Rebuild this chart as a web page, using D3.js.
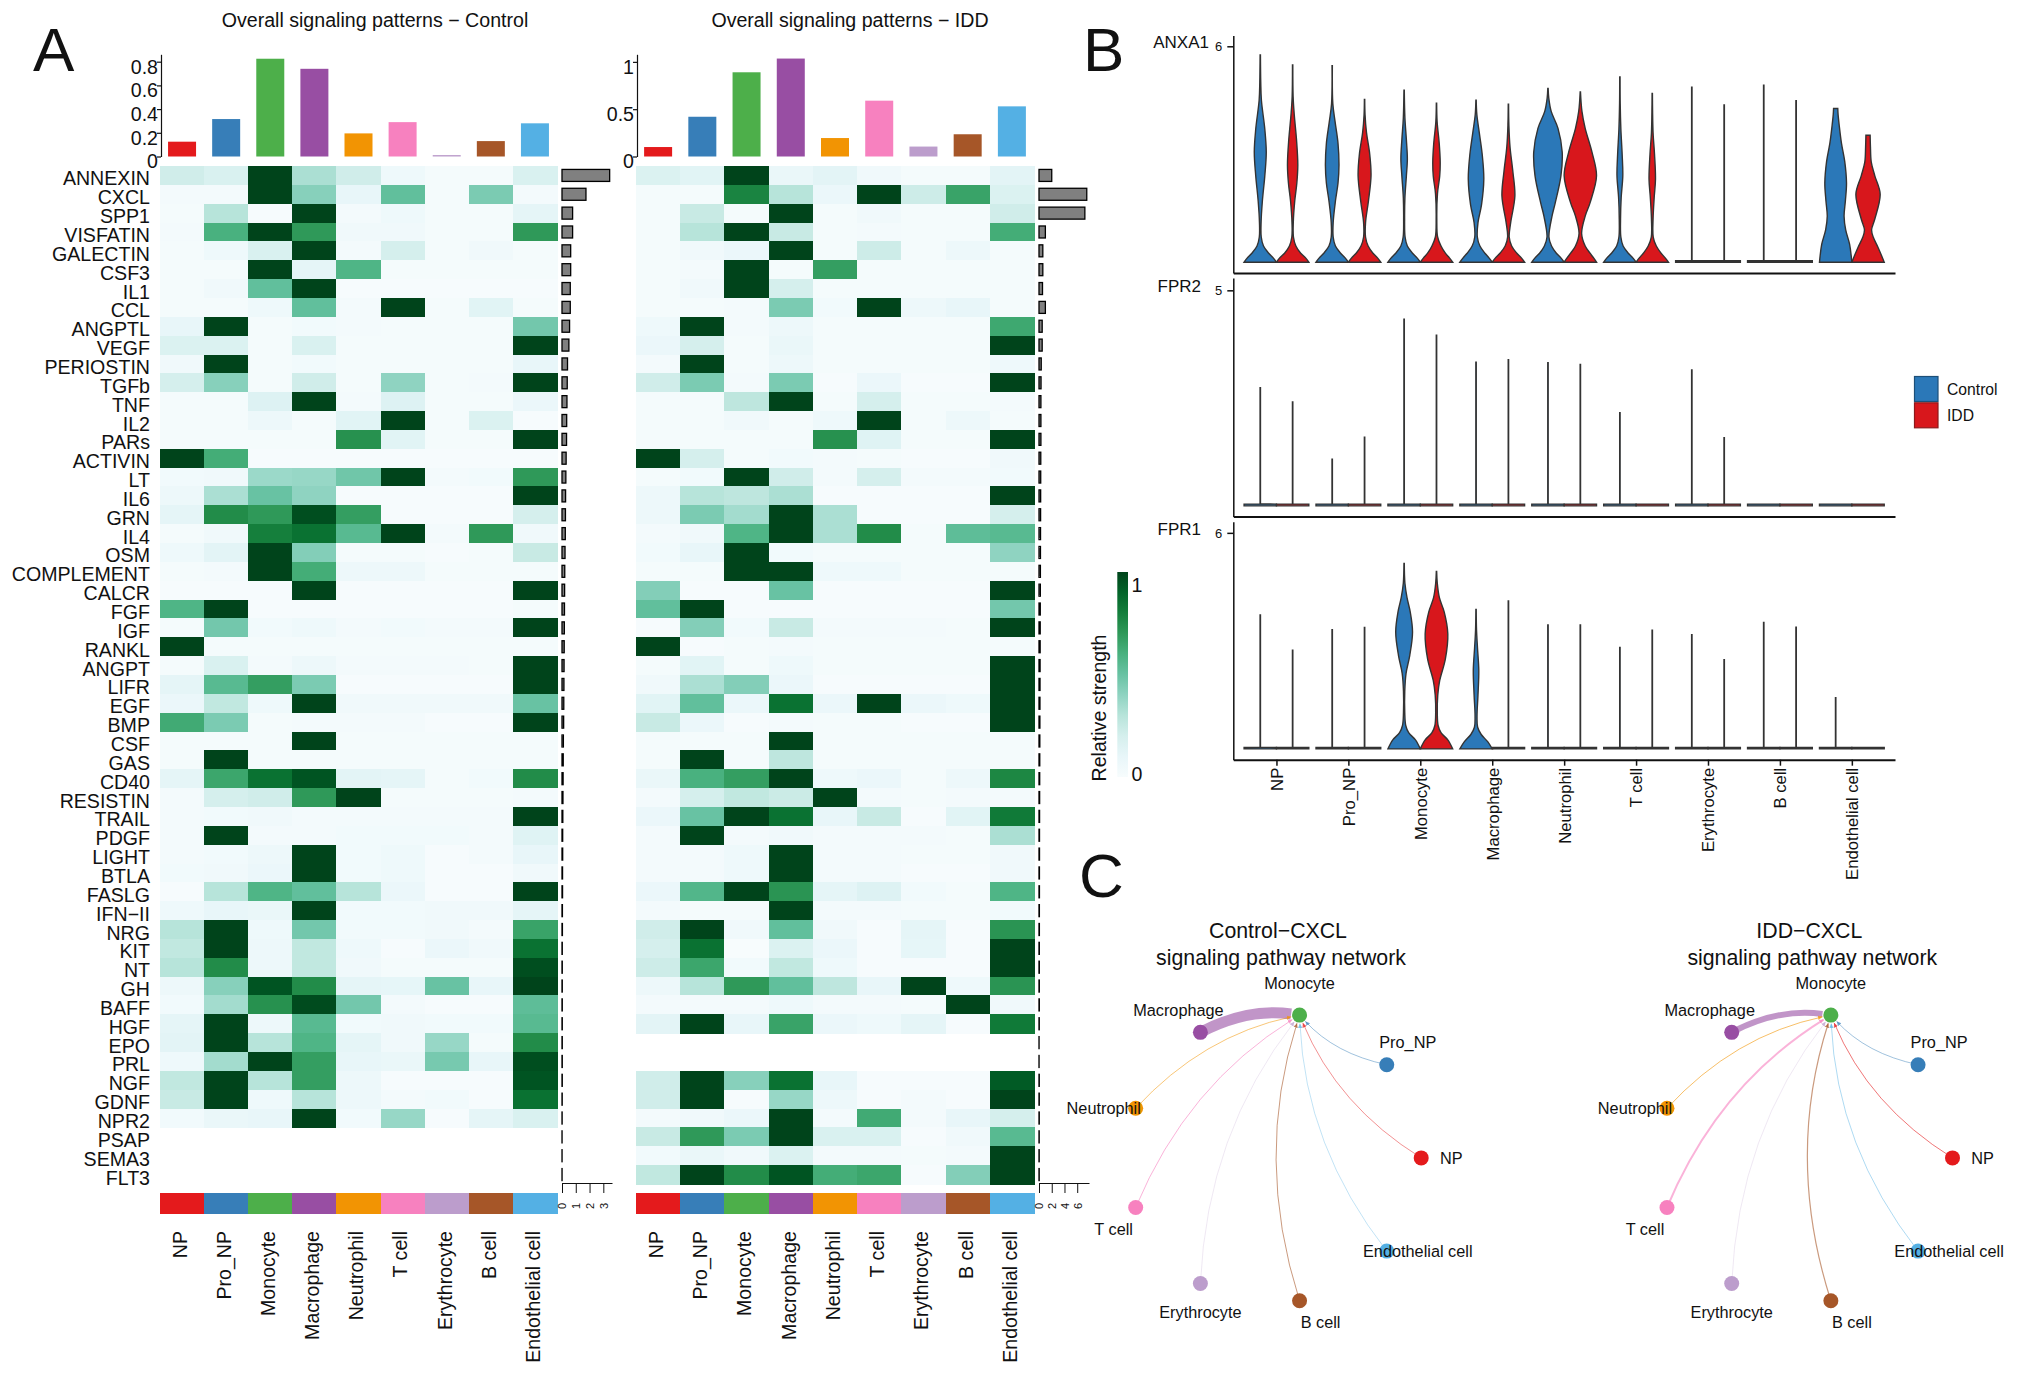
<!DOCTYPE html>
<html>
<head>
<meta charset="utf-8">
<script src="https://d3js.org/d3.v7.min.js"></script>
<style>
  body { margin: 0; background: #fff; }
  text { font-family: "Liberation Sans", Arial, sans-serif; fill: #111; }
  .axis path, .axis line { stroke: #111; }
  .axis text { fill: #111; }
</style>
</head>
<body>
<div id="chart"></div>
<script>
// ==================== data ====================
var cellTypes = ["NP", "Pro_NP", "Monocyte", "Macrophage", "Neutrophil", "T cell", "Erythrocyte", "B cell", "Endothelial cell"];
var cellColors = ["#E41A1C", "#377EB8", "#4DAF4A", "#984EA3", "#F29403", "#F781BF", "#BC9DCC", "#A65628", "#54B0E4"];

var pathways = ["ANNEXIN", "CXCL", "SPP1", "VISFATIN", "GALECTIN", "CSF3", "IL1", "CCL", "ANGPTL", "VEGF", "PERIOSTIN", "TGFb", "TNF", "IL2", "PARs", "ACTIVIN", "LT", "IL6", "GRN", "IL4", "OSM", "COMPLEMENT", "CALCR", "FGF", "IGF", "RANKL", "ANGPT", "LIFR", "EGF", "BMP", "CSF", "GAS", "CD40", "RESISTIN", "TRAIL", "PDGF", "LIGHT", "BTLA", "FASLG", "IFN−II", "NRG", "KIT", "NT", "GH", "BAFF", "HGF", "EPO", "PRL", "NGF", "GDNF", "NPR2", "PSAP", "SEMA3", "FLT3"];

// top bars
var controlTotals = [0.125, 0.316, 0.825, 0.74, 0.195, 0.29, 0.012, 0.13, 0.28];
var iddTotals = [0.10, 0.42, 0.89, 1.035, 0.195, 0.59, 0.105, 0.235, 0.53];

// right bars, one per pathway
var controlPathwayTotals = [3.46, 1.74, 0.77, 0.77, 0.63, 0.63, 0.6, 0.6, 0.55, 0.5, 0.4, 0.38, 0.36, 0.34, 0.33, 0.3, 0.28, 0.26, 0.25, 0.24, 0.22, 0.2, 0.19, 0.18, 0.17, 0.16, 0.15, 0.14, 0.13, 0.12, 0.1, 0.09, 0.08, 0.07, 0.06, 0.05, 0.05, 0.04, 0.04, 0.03, 0.03, 0.02, 0.02, 0.02, 0.02, 0.02, 0.02, 0.02, 0.02, 0.015, 0.01, 0.005, 0.005, 0.005];
var iddPathwayTotals = [2.0, 7.5, 7.2, 1.0, 0.6, 0.6, 0.55, 1.0, 0.5, 0.5, 0.35, 0.32, 0.3, 0.3, 0.3, 0.28, 0.27, 0.26, 0.25, 0.24, 0.23, 0.22, 0.21, 0.2, 0.19, 0.18, 0.17, 0.16, 0.15, 0.14, 0.13, 0.12, 0.11, 0.1, 0.09, 0.08, 0.08, 0.07, 0.07, 0.06, 0.06, 0.05, 0.05, 0.05, 0.05, 0.04, 0.01, 0.01, 0.04, 0.04, 0.04, 0.03, 0.03, 0.03];

// heatmap, rows are pathways, null is a blank row
var controlHeat = [
  [.22, .18, 1, .33, .22, .06, .02, .02, .18],
  [.03, .03, 1, .42, .1, .52, .02, .45, .03],
  [.02, .3, .01, 1, .03, .06, .02, .02, .12],
  [.03, .6, 1, .7, .05, .05, .02, .02, .7],
  [.02, .06, .18, 1, .03, .2, .02, .05, .02],
  [.02, .02, 1, .12, .58, .02, .02, .02, .02],
  [.02, .05, .52, 1, .01, .01, .01, .01, .01],
  [.02, .02, .06, .52, .03, 1, .02, .14, .02],
  [.1, 1, .02, .04, .03, .02, .02, .02, .47],
  [.17, .17, .02, .18, .02, .02, .02, .02, 1],
  [.05, 1, .02, .04, .02, .02, .02, .02, .1],
  [.2, .42, .02, .22, .02, .4, .02, .03, 1],
  [.02, .02, .16, 1, .03, .16, .02, .02, .08],
  [.02, .02, .07, .02, .14, 1, .02, .17, .01],
  [.02, .02, .02, .02, .73, .14, .02, .02, 1],
  [1, .62, .01, .01, .01, .01, .01, .01, .01],
  [.04, .05, .37, .38, .48, 1, .03, .04, .7],
  [.07, .33, .5, .4, .01, .01, .01, .01, 1],
  [.12, .75, .7, .97, .68, .01, .01, .01, .2],
  [.02, .05, .8, .85, .55, 1, .03, .7, .05],
  [.06, .13, 1, .43, .02, .02, .01, .02, .25],
  [.02, .03, 1, .62, .07, .07, .02, .02, .02],
  [.01, .01, .01, 1, .01, .01, .01, .01, 1],
  [.58, 1, .01, .01, .01, .01, .01, .01, .02],
  [.02, .47, .04, .06, .03, .04, .03, .03, 1],
  [1, .02, .02, .02, .02, .02, .02, .02, .02],
  [.02, .18, .03, .07, .03, .03, .03, .02, 1],
  [.12, .55, .68, .45, .01, .01, .01, .01, 1],
  [.08, .27, .06, 1, .05, .05, .05, .05, .5],
  [.63, .45, .02, .03, .03, .03, .01, .01, 1],
  [.02, .02, .02, 1, .02, .02, .02, .02, .02],
  [.02, 1, .02, .02, .02, .02, .02, .02, .02],
  [.12, .65, .85, .95, .13, .12, .02, .04, .75],
  [.03, .2, .22, .7, 1, .02, .02, .02, .03],
  [.03, .04, .05, .03, .03, .03, .03, .03, 1],
  [.03, 1, .03, .03, .04, .04, .04, .03, .15],
  [.03, .04, .07, 1, .04, .06, .01, .03, .1],
  [.04, .05, .08, 1, .04, .06, .01, .01, .05],
  [.01, .3, .58, .52, .3, .08, .01, .01, 1],
  [.06, .1, .09, 1, .04, .04, .05, .05, .12],
  [.3, 1, .06, .47, .04, .04, .05, .03, .66],
  [.27, 1, .07, .27, .06, .01, .08, .05, .85],
  [.3, .75, .07, .27, .05, .02, .02, .02, .97],
  [.07, .42, .95, .75, .12, .11, .5, .1, 1],
  [.04, .35, .73, .98, .47, .03, .01, .01, .53],
  [.12, 1, .07, .55, .04, .05, .04, .04, .55],
  [.13, 1, .3, .58, .12, .05, .38, .02, .75],
  [.06, .35, 1, .68, .1, .09, .46, .1, .97],
  [.27, 1, .3, .68, .07, .01, .01, .01, .95],
  [.25, 1, .06, .3, .07, .03, .04, .01, .85],
  [.04, .09, .1, 1, .04, .38, .01, .12, .18],
  null,
  null,
  null
];
var iddHeat = [
  [.17, .14, 1, .09, .13, .05, .02, .02, .13],
  [.02, .02, .78, .3, .08, 1, .23, .66, .17],
  [.02, .25, .02, 1, .02, .05, .02, .02, .22],
  [.02, .3, 1, .25, .02, .03, .02, .02, .62],
  [.02, .05, .08, 1, .02, .23, .02, .07, .02],
  [.02, .03, 1, .02, .68, .02, .02, .02, .02],
  [.02, .05, 1, .2, .02, .02, .02, .02, .02],
  [.02, .02, .03, .45, .04, 1, .07, .1, .02],
  [.06, 1, .03, .07, .02, .02, .02, .02, .64],
  [.08, .2, .02, .09, .02, .02, .02, .02, 1],
  [.03, 1, .02, .07, .02, .02, .02, .02, .06],
  [.22, .45, .03, .45, .01, .08, .01, .01, 1],
  [.02, .02, .28, 1, .02, .2, .02, .02, .03],
  [.02, .02, .05, .02, .06, 1, .02, .07, .02],
  [.02, .02, .02, .02, .73, .15, .02, .02, 1],
  [1, .2, .02, .04, .03, .02, .01, .01, .05],
  [.02, .04, 1, .22, .03, .2, .03, .03, .04],
  [.07, .3, .28, .33, .01, .01, .01, .01, 1],
  [.07, .45, .35, 1, .33, .01, .01, .01, .2],
  [.03, .05, .58, 1, .33, .75, .02, .53, .55],
  [.04, .1, 1, .04, .02, .02, .02, .02, .4],
  [.02, .02, 1, 1, .06, .06, .02, .02, .02],
  [.43, .01, .01, .5, .01, .01, .01, .01, 1],
  [.52, 1, .01, .01, .01, .01, .01, .01, .47],
  [.01, .43, .04, .25, .03, .03, .03, .02, 1],
  [1, .01, .02, .03, .02, .02, .02, .02, .02],
  [.02, .14, .02, .06, .02, .02, .02, .02, 1],
  [.05, .33, .43, .08, .01, .01, .01, .01, 1],
  [.14, .52, .08, .85, .08, 1, .08, .06, 1],
  [.25, .08, .01, .03, .02, .02, .01, .01, 1],
  [.02, .02, .02, 1, .02, .02, .02, .02, .02],
  [.02, 1, .02, .28, .02, .02, .02, .02, .02],
  [.09, .6, .68, 1, .06, .08, .02, .07, .77],
  [.03, .2, .27, .24, 1, .03, .02, .03, .03],
  [.08, .5, 1, .85, .1, .25, .01, .14, .82],
  [.03, 1, .03, .05, .03, .03, .03, .02, .33],
  [.03, .03, .06, 1, .03, .03, .02, .02, .05],
  [.03, .03, .06, 1, .03, .03, .01, .01, .05],
  [.08, .57, 1, .72, .12, .16, .04, .02, .58],
  [.03, .02, .02, 1, .03, .03, .02, .02, .04],
  [.22, 1, .05, .52, .05, .01, .12, .01, .72],
  [.2, .85, .0, .17, .08, .01, .11, .01, 1],
  [.23, .65, .04, .27, .06, .01, .01, .01, 1],
  [.07, .3, .7, .52, .28, .1, 1, .06, .72],
  [.03, .03, .03, .06, .03, .03, .02, 1, .05],
  [.13, 1, .1, .66, .08, .06, .12, .01, .82],
  null,
  null,
  [.22, 1, .42, .85, .1, .01, .01, .01, .93],
  [.22, 1, .01, .38, .07, .01, .03, .01, 1],
  [.03, .05, .08, 1, .03, .63, .03, .1, .2],
  [.25, .7, .45, 1, .18, .18, .01, .05, .55],
  [.04, .09, .05, .17, .03, .03, .02, .03, 1],
  [.27, 1, .75, .95, .62, .65, .01, .43, 1]
];

// violins: each profile is a list of [expression, relative half width]
var anxa1Control = [
  [[0, 1], [.12, .8], [.25, .52], [.45, .2], [.7, .06], [1.1, .05], [1.7, .13], [2.4, .28], [3.06, .37], [3.7, .28], [4.5, .07], [5, .03], [5.76, .01]],
  [[0, 1], [.12, .8], [.25, .52], [.45, .2], [.7, .06], [1.1, .06], [1.7, .2], [2.2, .36], [2.7, .42], [3.3, .36], [3.9, .18], [4.4, .04], [5.46, .01]],
  [[0, 1], [.12, .8], [.25, .52], [.45, .2], [.7, .06], [1.2, .03], [1.8, .05], [2.4, .14], [2.87, .2], [3.4, .14], [4, .05], [4.78, .01]],
  [[0, 1], [.12, .8], [.25, .55], [.45, .24], [.7, .08], [1.1, .12], [1.6, .34], [2.31, .48], [3, .38], [3.6, .2], [4.1, .05], [4.5, .01]],
  [[0, 1], [.12, .8], [.25, .52], [.45, .22], [.7, .06], [1.28, .25], [1.65, .45], [2.4, .8], [3.06, .88], [3.72, .62], [4.19, .2], [4.56, .05], [4.83, .01]],
  [[0, 1], [.12, .8], [.25, .52], [.45, .2], [.7, .06], [1.2, .04], [1.8, .08], [2.4, .18], [3, .14], [3.7, .06], [4.4, .02], [5.15, .01]],
  [],
  [],
  [[0, 1], [.5, .86], [.9, .62], [1.28, .52], [1.7, .6], [2.2, .67], [2.8, .56], [3.3, .36], [3.8, .22], [4.1, .15], [4.27, .13]]
];
var anxa1Idd = [
  [[0, 1], [.12, .8], [.25, .5], [.45, .2], [.7, .05], [1.1, .04], [1.7, .13], [2.2, .26], [2.7, .32], [3.4, .24], [4.1, .1], [4.6, .03], [5.48, .01]],
  [[0, 1], [.12, .8], [.25, .52], [.45, .22], [.7, .06], [1.1, .06], [1.7, .24], [2.4, .4], [3, .32], [3.6, .12], [4.1, .03], [4.52, .01]],
  [[0, 1], [.12, .8], [.25, .55], [.45, .28], [.7, .07], [1.2, .02], [1.9, .06], [2.4, .2], [2.78, .23], [3.3, .17], [3.9, .04], [4.42, .01]],
  [[0, 1], [.12, .8], [.25, .52], [.45, .2], [.7, .05], [1.1, .14], [1.84, .4], [2.5, .28], [3.2, .1], [3.8, .03], [4.39, .01]],
  [[0, 1], [.12, .82], [.25, .6], [.45, .3], [.8, .08], [1.28, .3], [1.65, .6], [2.4, 1], [3.06, .72], [3.72, .3], [4.19, .1], [4.73, .01]],
  [[0, 1], [.12, .8], [.25, .55], [.45, .25], [.7, .06], [1.2, .05], [1.8, .12], [2.31, .2], [3, .14], [3.6, .05], [4.2, .02], [4.69, .01]],
  [],
  [],
  [[0, 1], [.2, .82], [.43, .6], [.7, .32], [.9, .22], [1.2, .42], [1.89, .75], [2.4, .42], [2.78, .2], [3.2, .15], [3.53, .13]]
];
// where the violins above are empty there is only a spike, these are the spike heights
var anxa1SpikeControl = [0, 0, 0, 0, 0, 0, 4.86, 4.92, 0];
var anxa1SpikeIdd = [0, 0, 0, 0, 0, 0, 4.37, 4.49, 0];
var fpr2SpikeControl = [2.74, 1.08, 4.33, 3.33, 3.32, 2.16, 3.15, 0, 0];
var fpr2SpikeIdd = [2.41, 1.59, 3.96, 3.39, 3.28, 0, 1.58, 0, 0];
var fpr1SpikeControl = [3.72, 3.31, 0, 0, 3.44, 2.82, 3.17, 3.51, 1.42];
var fpr1SpikeIdd = [2.74, 3.37, 0, 4.11, 3.44, 3.30, 2.48, 3.38, 0];
var fpr1Control = [
  [], [],
  [[0, 1], [.25, .7], [.45, .28], [.65, .1], [1, .04], [1.6, .04], [2.1, .12], [2.6, .35], [3.25, .52], [3.8, .38], [4.2, .18], [4.6, .05], [5.15, .01]],
  [[0, 1], [.2, .72], [.4, .32], [.6, .1], [.9, .06], [1.5, .12], [2.18, .17], [2.8, .09], [3.3, .03], [3.87, .01]],
  [], [], [], [], []
];
var fpr1Idd = [
  [], [],
  [[0, 1], [.25, .7], [.45, .28], [.65, .1], [1, .05], [1.5, .08], [1.9, .2], [2.5, .55], [3.2, .7], [3.8, .48], [4.2, .18], [4.6, .05], [4.93, .01]],
  [], [], [], [], [], []
];

// network, strength of each source cell type into Monocyte
var networkControlWidths = [0.8, 0.8, 0, 11, 0.9, 1, 0.4, 1, 0.6];
var networkIddWidths = [1, 0.8, 0, 6, 1, 2, 0.4, 1.2, 0.8];

// ==================== page ====================
var svg = d3.select("#chart").append("svg")
  .attr("width", 2023)
  .attr("height", 1383);

var heatColor = d3.scaleSequential(d3.interpolateBuGn).domain([0, 1]);
var labelFont = 19.6;

function panelLetter(label, x, y) {
  svg.append("text").attr("x", x).attr("y", y).attr("font-size", 62).text(label);
}
panelLetter("A", 33, 71);
panelLetter("B", 1083, 71);
panelLetter("C", 1079, 897);

// ==================== Panel A ====================
function drawHeatPanel(opt) {
  var x = d3.scaleBand().domain(cellTypes).range([opt.left, opt.right]);
  var y = d3.scaleBand().domain(pathways).range([166, 1184]);

  svg.append("text")
    .attr("x", opt.titleX).attr("y", 27)
    .attr("text-anchor", "middle")
    .attr("font-size", labelFont)
    .text(opt.title);

  // top bars
  var yBar = d3.scaleLinear().domain([0, opt.barMax]).range([156.5, 54.3]);
  svg.append("g").selectAll("rect")
    .data(opt.totals)
    .enter()
    .append("rect")
    .attr("x", (d, i) => x(cellTypes[i]) + (x.bandwidth() - 28) / 2)
    .attr("y", d => yBar(d))
    .attr("width", 28)
    .attr("height", d => yBar(0) - yBar(d))
    .attr("fill", (d, i) => cellColors[i]);

  var barAxis = svg.append("g")
    .attr("class", "axis")
    .attr("transform", `translate(${opt.left + 1}, 0)`)
    .call(d3.axisLeft(yBar).tickValues(opt.barTicks).tickSize(4).tickSizeOuter(0).tickFormat(d => d));
  barAxis.selectAll("text")
    .attr("font-size", labelFont)
    .attr("font-family", "Liberation Sans")
    .attr("x", -3)
    .attr("dy", "0.58em");
  barAxis.selectAll("path, line").attr("stroke-width", 1.2);

  // heatmap cells
  opt.heat.forEach(function(row, r) {
    if (row === null) return;
    svg.append("g").selectAll("rect")
      .data(row)
      .enter()
      .append("rect")
      .attr("x", (d, i) => x(cellTypes[i]))
      .attr("y", y(pathways[r]))
      .attr("width", x.bandwidth() + 0.5)
      .attr("height", y.bandwidth() + 0.5)
      .attr("shape-rendering", "crispEdges")
      .attr("fill", d => heatColor(d));
  });

  // colour strip under the heatmap
  svg.append("g").selectAll("rect")
    .data(cellTypes)
    .enter()
    .append("rect")
    .attr("x", d => x(d))
    .attr("y", 1193)
    .attr("width", x.bandwidth() + 0.5)
    .attr("height", 21)
    .attr("shape-rendering", "crispEdges")
    .attr("fill", (d, i) => cellColors[i]);

  svg.append("g").selectAll("text")
    .data(cellTypes)
    .enter()
    .append("text")
    .attr("transform", d => `translate(${x(d) + x.bandwidth() / 2 - 2}, 1231) rotate(-90)`)
    .attr("dy", "0.35em")
    .attr("text-anchor", "end")
    .attr("font-size", labelFont)
    .text(d => d);

  // right bars
  var xSide = d3.scaleLinear().domain(opt.sideDomain).range([opt.right + 5, opt.sideEnd]);
  svg.append("g").selectAll("rect")
    .data(opt.sideTotals)
    .enter()
    .append("rect")
    .attr("x", xSide(0))
    .attr("y", (d, i) => y(pathways[i]) + (y.bandwidth() - 12) / 2)
    .attr("width", d => xSide(d) - xSide(0))
    .attr("height", 12)
    .attr("fill", "#808080")
    .attr("stroke", "#000")
    .attr("stroke-width", 1.3);

  var sideAxis = svg.append("g")
    .attr("class", "axis")
    .attr("transform", "translate(0, 1183)")
    .call(d3.axisBottom(xSide).tickValues(opt.sideTicks).tickSize(10).tickSizeOuter(0).tickFormat(d3.format("d")));
  sideAxis.selectAll("text")
    .attr("font-size", 11)
    .attr("font-family", "Liberation Sans")
    .attr("transform", "translate(0, 23) rotate(-90)")
    .attr("y", 0)
    .attr("dy", "0.35em")
    .attr("text-anchor", "middle");
}

drawHeatPanel({
  title: "Overall signaling patterns − Control", titleX: 375,
  left: 160, right: 557,
  totals: controlTotals, barMax: 0.8624, barTicks: [0, 0.2, 0.4, 0.6, 0.8],
  heat: controlHeat,
  sideTotals: controlPathwayTotals, sideDomain: [0, 3.63], sideEnd: 612, sideTicks: [0, 1, 2, 3]
});
drawHeatPanel({
  title: "Overall signaling patterns − IDD", titleX: 850,
  left: 636, right: 1034,
  totals: iddTotals, barMax: 1.08, barTicks: [0, 0.5, 1],
  heat: iddHeat,
  sideTotals: iddPathwayTotals, sideDomain: [0, 7.85], sideEnd: 1089, sideTicks: [0, 2, 4, 6]
});

// row labels only on the left heatmap
var yRows = d3.scaleBand().domain(pathways).range([166, 1184]);
svg.append("g").selectAll("text")
  .data(pathways)
  .enter()
  .append("text")
  .attr("x", 150)
  .attr("y", d => yRows(d) + yRows.bandwidth() / 2 + 10)
  .attr("text-anchor", "end")
  .attr("font-size", labelFont)
  .text(d => d);

// ==================== Colour bar ====================
var gradient = svg.append("defs").append("linearGradient")
  .attr("id", "strengthBar")
  .attr("x1", 0).attr("y1", 1).attr("x2", 0).attr("y2", 0);
d3.range(0, 1.01, 0.1).forEach(function(t) {
  gradient.append("stop").attr("offset", t).attr("stop-color", heatColor(t));
});
svg.append("rect")
  .attr("x", 1117.3).attr("y", 572)
  .attr("width", 10.7).attr("height", 205)
  .attr("fill", "url(#strengthBar)");
svg.append("text").attr("x", 1137).attr("y", 592).attr("text-anchor", "middle").attr("font-size", labelFont).text("1");
svg.append("text").attr("x", 1137).attr("y", 781).attr("text-anchor", "middle").attr("font-size", labelFont).text("0");
svg.append("text")
  .attr("transform", "translate(1099, 708) rotate(-90)")
  .attr("dy", "0.35em")
  .attr("text-anchor", "middle")
  .attr("font-size", 19.6)
  .text("Relative strength");

// ==================== Panel B ====================
var violinX = d3.scalePoint().domain(cellTypes).range([1233.3, 1895]).padding(0.6);
var violinStep = violinX.step();
var blue = "#2b78b8";
var red = "#d8171c";

function spikeProfile(height) {
  // flat line at zero, with a thin line up to the highest cell when there is one
  if (height === 0) return [[0, 1], [0.04, 1]];
  return [[0, 1], [0.04, 1], [0.045, 0.012], [height, 0.012]];
}

function drawViolinPanel(opt) {
  var y = d3.scaleLinear().domain(opt.domain).range(opt.range);
  var halfMax = 0.225 * violinStep;

  var group = svg.append("g");
  [[opt.control, opt.spikeControl, -1, blue], [opt.idd, opt.spikeIdd, 1, red]].forEach(function(s) {
    cellTypes.forEach(function(cell, i) {
      var cx = violinX(cell) + s[2] * halfMax;
      var shaped = s[0] && s[0][i].length;
      var profile = shaped ? s[0][i] : spikeProfile(s[1][i]);
      var area = d3.area()
        .curve(shaped ? d3.curveCatmullRom.alpha(0.5) : d3.curveLinear)
        .x0(d => cx - d[1] * halfMax)
        .x1(d => cx + d[1] * halfMax)
        .y(d => y(d[0]));
      group.append("path")
        .attr("d", area(profile))
        .attr("fill", s[3])
        .attr("stroke", "#333")
        .attr("stroke-width", 1.4);
    });
  });

  var left = svg.append("g")
    .attr("class", "axis")
    .attr("transform", "translate(1233.3, 0)")
    .call(d3.axisLeft(y).tickValues([opt.tick]).tickSize(6).tickSizeOuter(0).tickPadding(5).tickFormat(d3.format("d")));
  left.selectAll("text").attr("font-size", 13).attr("font-family", "Liberation Sans");
  left.selectAll("path").attr("stroke-width", 1.5);
  left.selectAll("line").attr("stroke-width", 1.5);

  var bottom = svg.append("g")
    .attr("class", "axis")
    .attr("transform", `translate(0, ${opt.range[0]})`)
    .call(d3.axisBottom(violinX).tickSize(opt.showCells ? 6 : 0).tickSizeOuter(0));
  bottom.selectAll("path").attr("stroke-width", 2);
  bottom.selectAll("line").attr("stroke-width", 1.5);
  if (opt.showCells) {
    bottom.selectAll("text")
      .attr("font-size", 16.7)
      .attr("font-family", "Liberation Sans")
      .attr("transform", "translate(0, 8) rotate(-90)")
      .attr("x", 0).attr("y", 0)
      .attr("dy", "0.35em")
      .attr("text-anchor", "end");
  } else {
    bottom.selectAll("text").remove();
  }

  svg.append("text")
    .attr("x", opt.labelX).attr("y", opt.labelY)
    .attr("text-anchor", "end")
    .attr("font-size", 17)
    .attr("fill", "#222")
    .text(opt.gene);
}

drawViolinPanel({
  gene: "ANXA1", labelX: 1209, labelY: 48, tick: 6, domain: [-0.3, 6.3], range: [273, 35.5],
  control: anxa1Control, idd: anxa1Idd, spikeControl: anxa1SpikeControl, spikeIdd: anxa1SpikeIdd
});
drawViolinPanel({
  gene: "FPR2", labelX: 1201, labelY: 292, tick: 5, domain: [-0.25, 5.286], range: [516.6, 278],
  spikeControl: fpr2SpikeControl, spikeIdd: fpr2SpikeIdd
});
drawViolinPanel({
  gene: "FPR1", labelX: 1201, labelY: 535, tick: 6, domain: [-0.3, 6.31], range: [759.7, 521.7], showCells: true,
  control: fpr1Control, idd: fpr1Idd, spikeControl: fpr1SpikeControl, spikeIdd: fpr1SpikeIdd
});

// legend
[["Control", blue, "#1d4f78"], ["IDD", red, "#8c1a1c"]].forEach(function(k, i) {
  svg.append("rect")
    .attr("x", 1914.5).attr("y", 376.5 + i * 26.3)
    .attr("width", 23.5).attr("height", 25)
    .attr("fill", k[1])
    .attr("stroke", k[2])
    .attr("stroke-width", 1.2);
  svg.append("text")
    .attr("x", 1947).attr("y", 394.5 + i * 26.3)
    .attr("font-size", 15.7)
    .attr("fill", "#222")
    .text(k[0]);
});

// ==================== Panel C ====================
// nodes sit on a circle, every 40 degrees from the right going anticlockwise
var nodeAngles = cellTypes.map((d, i) => i * 40 * Math.PI / 180);
// label offset from its node
var networkLabelOffsets = [[30, 0], [21, -22], [0, -32], [-22, -22], [-32, 0], [-22, 22], [0, 29], [21, 22], [31, 0]];

function drawNetwork(opt) {
  var x = d3.scaleLinear().domain([-1, 1]).range([opt.cx - 147.2, opt.cx + 147.2]);
  var y = d3.scaleLinear().domain([-1, 1]).range([1157.9 + 145, 1157.9 - 145]);
  var nodes = cellTypes.map(function(name, i) {
    return {
      name: name,
      color: cellColors[i],
      px: x(Math.cos(nodeAngles[i])),
      py: y(Math.sin(nodeAngles[i])),
      width: opt.widths[i],
      off: networkLabelOffsets[i]
    };
  });
  var target = nodes[2];

  svg.append("text").attr("x", opt.cx + opt.titleShift).attr("y", 938).attr("text-anchor", "middle")
    .attr("font-size", 21.3).text(opt.title);
  svg.append("text").attr("x", opt.cx + 7).attr("y", 965).attr("text-anchor", "middle")
    .attr("font-size", 21.3).text("signaling pathway network");

  var defs = svg.append("defs");
  nodes.forEach(function(n, i) {
    if (n.width === 0) return;
    defs.append("marker")
      .attr("id", "arrow" + opt.id + i)
      .attr("markerUnits", "userSpaceOnUse")
      .attr("markerWidth", 6).attr("markerHeight", 6)
      .attr("refX", 4.5).attr("refY", 2.25)
      .attr("orient", "auto")
      .append("path")
      .attr("d", "M0,0 L4.5,2.25 L0,4.5 Z")
      .attr("fill", n.color)
      .attr("fill-opacity", 0.7);

    // quadratic arc bowing to the left of the direction of travel
    var dx = target.px - n.px;
    var dy = target.py - n.py;
    var cx = (n.px + target.px) / 2 + dy * 0.16;
    var cy = (n.py + target.py) / 2 - dx * 0.16;
    var len = Math.hypot(target.px - cx, target.py - cy);
    var ex = target.px + (cx - target.px) / len * 8.5;
    var ey = target.py + (cy - target.py) / len * 8.5;
    var p = d3.path();
    p.moveTo(n.px, n.py);
    p.quadraticCurveTo(cx, cy, ex, ey);
    svg.append("path")
      .attr("d", p.toString())
      .attr("fill", "none")
      .attr("stroke", n.color)
      .attr("stroke-opacity", 0.6)
      .attr("stroke-width", n.width)
      .attr("marker-end", n.width < 4 ? `url(#arrow${opt.id}${i})` : null);
  });

  svg.append("g").selectAll("circle")
    .data(nodes)
    .enter()
    .append("circle")
    .attr("cx", d => d.px)
    .attr("cy", d => d.py)
    .attr("r", 7.5)
    .attr("fill", d => d.color);

  svg.append("g").selectAll("text")
    .data(nodes)
    .enter()
    .append("text")
    .attr("x", d => d.px + d.off[0])
    .attr("y", d => d.py + d.off[1])
    .attr("dy", "0.35em")
    .attr("text-anchor", "middle")
    .attr("font-size", 16.3)
    .attr("fill", "#222")
    .text(d => d.name);
}

drawNetwork({ id: "c", cx: 1274, title: "Control−CXCL", titleShift: 4, widths: networkControlWidths });
drawNetwork({ id: "i", cx: 1805.3, title: "IDD−CXCL", titleShift: 4, widths: networkIddWidths });
</script>
</body>
</html>
